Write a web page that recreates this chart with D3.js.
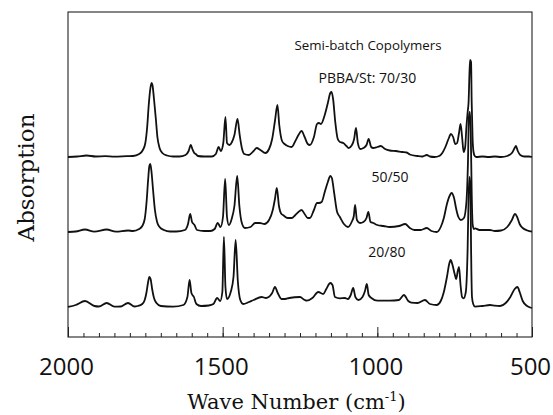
<!DOCTYPE html>
<html>
<head>
<meta charset="utf-8">
<script src="https://cdn.jsdelivr.net/npm/d3@7"></script>
<style>
	body { margin: 0; background: #fff; }
	.spec { fill: none; stroke: #111; stroke-width: 1.8; stroke-linejoin: round; }
	.frame { fill: none; stroke: #222; stroke-width: 1.1; }
	.tick line { stroke: #222; }
	.tick text { font-family: 'Open Sans', sans-serif; font-size: 24px; fill: #111; }
	.axis_title { font-family: 'DejaVu Serif', serif; fill: #111; }
	.note { font-family: 'Open Sans', sans-serif; fill: #111; text-anchor: middle; }
</style>
</head>
<body>
<div id="chart"></div>
<script>
// series names / stacking offsets (absorbance units)
var seriesNames = ['PBBA/St: 70/30', '50/50', '20/80'];
var seriesOffsets = [1.80, 1.05, 0.30];
var title = 'Semi-batch Copolymers';
// where the notes sit: [wave number, absorbance]
var notePos = [[1032, 2.54], [959, 1.55], [969, 0.80]];
var titlePos = [1030, 2.87];

var xMajorTicks = [2000, 1500, 1000, 500];
var xMinorTicks = d3.range(2000, 499, -50);

// [wave number (cm-1), absorbance above baseline]
var spec7030 = [[2000,0],[1970,.005],[1940,.015],[1910,.005],[1880,.008],[1850,.003],[1810,.008],[1790,.01],[1770,.03],[1758,.07],[1750,.14],[1744,.30],[1739,.52],[1734,.68],[1730,.74],[1727,.72],[1722,.58],[1716,.38],[1711,.20],[1704,.09],[1695,.04],[1680,.015],[1660,.005],[1640,.005],[1620,.02],[1610,.06],[1603,.12],[1598,.08],[1592,.04],[1587,.03],[1580,.01],[1560,.005],[1535,.005],[1522,.03],[1513,.10],[1506,.06],[1498,.14],[1491,.40],[1486,.14],[1478,.12],[1470,.15],[1462,.22],[1452,.38],[1445,.22],[1438,.09],[1430,.03],[1415,.02],[1400,.06],[1390,.09],[1378,.07],[1362,.04],[1350,.08],[1340,.18],[1331,.36],[1323,.52],[1317,.32],[1308,.16],[1300,.13],[1290,.11],[1277,.10],[1265,.16],[1255,.22],[1245,.26],[1235,.20],[1225,.13],[1218,.12],[1205,.20],[1195,.33],[1189,.34],[1182,.33],[1170,.42],[1160,.54],[1152,.64],[1148,.65],[1143,.58],[1136,.35],[1128,.18],[1121,.15],[1110,.14],[1100,.11],[1093,.09],[1082,.12],[1075,.18],[1069,.29],[1063,.14],[1055,.08],[1045,.09],[1035,.12],[1028,.18],[1020,.10],[1013,.09],[1000,.10],[989,.11],[975,.08],[960,.065],[940,.06],[920,.05],[905,.045],[895,.025],[870,.01],[855,.005],[840,.02],[830,.005],[815,0],[800,.01],[790,.04],[780,.10],[770,.18],[762,.23],[755,.20],[748,.13],[742,.14],[736,.24],[731,.33],[726,.20],[721,.05],[716,.10],[712,.30],[708,.45],[705,.55],[702,.85],[700,.97],[697,.95],[695,.55],[692,.18],[689,.05],[685,.01],[680,0],[660,.005],[640,0],[620,.005],[600,0],[580,.01],[565,.04],[556,.09],[552,.11],[546,.06],[538,.02],[525,.005],[510,.005],[500,0]];

var spec5050 = [[2000,0],[1975,.005],[1945,.025],[1915,.003],[1875,.025],[1845,.003],[1806,.015],[1790,.01],[1770,.03],[1760,.06],[1752,.13],[1746,.30],[1741,.52],[1737,.66],[1734,.68],[1730,.60],[1725,.42],[1719,.22],[1712,.10],[1704,.05],[1690,.02],[1670,.005],[1650,.005],[1622,.02],[1612,.08],[1605,.18],[1599,.10],[1591,.07],[1583,.02],[1560,.01],[1540,.01],[1526,.03],[1516,.09],[1507,.05],[1499,.15],[1492,.53],[1486,.15],[1480,.07],[1470,.14],[1462,.26],[1453,.56],[1446,.26],[1438,.09],[1428,.04],[1410,.05],[1395,.09],[1380,.09],[1365,.08],[1350,.12],[1338,.22],[1331,.33],[1325,.44],[1318,.26],[1310,.18],[1305,.17],[1290,.14],[1277,.14],[1265,.17],[1255,.20],[1245,.22],[1235,.18],[1225,.14],[1218,.14],[1205,.22],[1195,.29],[1189,.29],[1180,.30],[1170,.40],[1160,.50],[1152,.56],[1147,.54],[1140,.40],[1130,.20],[1121,.15],[1108,.08],[1095,.05],[1083,.10],[1076,.16],[1072,.27],[1066,.12],[1056,.09],[1045,.10],[1035,.14],[1029,.20],[1022,.10],[1013,.09],[1000,.07],[980,.06],[960,.05],[930,.06],[910,.08],[895,.04],[880,.02],[860,.02],[840,.04],[825,.01],[808,0],[795,.05],[785,.14],[775,.28],[765,.37],[760,.39],[752,.34],[745,.23],[738,.15],[730,.12],[720,.14],[712,.30],[707,.70],[704,1.15],[701,1.20],[698,1.00],[695,.40],[692,.08],[688,.03],[684,.037],[670,.02],[650,.02],[636,.02],[620,.01],[600,.015],[580,.05],[565,.12],[555,.18],[548,.15],[540,.08],[530,.04],[515,.015],[500,.003]];

var spec2080 = [[2000,0],[1975,.02],[1945,.06],[1915,.01],[1900,.005],[1875,.04],[1850,.003],[1830,.005],[1806,.04],[1785,.005],[1775,.01],[1760,.03],[1752,.07],[1746,.15],[1741,.25],[1737,.30],[1733,.28],[1728,.18],[1722,.09],[1714,.04],[1700,.01],[1660,.003],[1627,.02],[1614,.10],[1607,.27],[1601,.14],[1593,.10],[1585,.03],[1570,.01],[1545,.015],[1530,.03],[1518,.09],[1508,.06],[1501,.15],[1496,.70],[1491,.20],[1486,.08],[1474,.15],[1465,.30],[1458,.67],[1451,.26],[1443,.07],[1434,.03],[1415,.05],[1400,.07],[1374,.10],[1360,.09],[1340,.14],[1331,.20],[1322,.14],[1310,.08],[1298,.08],[1285,.09],[1250,.10],[1235,.07],[1228,.063],[1210,.09],[1191,.15],[1175,.13],[1165,.18],[1152,.24],[1145,.22],[1137,.10],[1121,.087],[1105,.09],[1095,.08],[1086,.12],[1078,.19],[1071,.10],[1061,.07],[1048,.10],[1040,.16],[1034,.23],[1028,.12],[1018,.087],[1000,.063],[960,.063],[930,.07],[914,.12],[900,.06],[890,.043],[870,.04],[846,.07],[830,.03],[808,.02],[795,.06],[785,.15],[775,.30],[767,.44],[763,.47],[757,.42],[750,.33],[745,.28],[740,.36],[736,.40],[731,.22],[726,.10],[721,.087],[714,.15],[708,.60],[705,1.10],[702,1.30],[699,1.20],[697,.60],[694,.10],[690,.03],[684,.003],[660,.01],[636,.02],[620,.013],[603,.01],[585,.04],[570,.10],[556,.18],[547,.20],[540,.15],[530,.06],[520,.02],[510,0],[500,-.01]];

var spectra = [spec7030, spec5050, spec2080];

var cfg = {
	w: 553,
	h: 415,
	mTop: 12,
	mRight: 21,
	mBottom: 78,
	mLeft: 68
};
var width = cfg.w - (cfg.mLeft + cfg.mRight),
	height = cfg.h - (cfg.mTop + cfg.mBottom);

var x = d3.scaleLinear().domain([2000, 500]).range([0, width]);
var y = d3.scaleLinear().domain([0, 3.25]).range([height, 0]);

var svg = d3.select('#chart').append('svg')
	.attr('width', cfg.w)
	.attr('height', cfg.h)
	.append('g')
	.attr('transform', 'translate(' + cfg.mLeft + ',' + cfg.mTop + ')');

// minor ticks, pointing inward
svg.append('g')
	.attr('transform', 'translate(0,' + height + ')')
	.call(d3.axisBottom(x).tickValues(xMinorTicks).tickSize(-4).tickFormat(''))
	.call(function(g) { g.select('.domain').remove(); });

// major ticks + labels
svg.append('g')
	.attr('transform', 'translate(0,' + height + ')')
	.call(d3.axisBottom(x).tickValues(xMajorTicks).tickSize(-10).tickFormat(d3.format('d')))
	.call(function(g) {
		g.select('.domain').remove();
		g.selectAll('.tick text').attr('y', 38).attr('dy', 0).attr('dx', -2);
	});

svg.append('rect')
	.classed('frame', true)
	.attr('x', 0)
	.attr('y', 0)
	.attr('width', width)
	.attr('height', height);

// spectra
spectra.forEach(function(s, i) {
	var off = seriesOffsets[i];
	svg.append('path')
		.datum(s)
		.classed('spec', true)
		.attr('d', d3.line()
			.curve(d3.curveMonotoneX)
			.x(function(d) { return x(d[0]); })
			.y(function(d) { return y(d[1] + off); }));
});

// notes
svg.append('text')
	.classed('note', true)
	.style('font-size', '13.3px')
	.attr('x', x(titlePos[0]))
	.attr('y', y(titlePos[1]))
	.text(title);

svg.selectAll('.series_lbl')
	.data(seriesNames)
	.enter()
	.append('text')
	.classed('note', true)
	.style('font-size', '14px')
	.attr('x', function(d, i) { return x(notePos[i][0]); })
	.attr('y', function(d, i) { return y(notePos[i][1]); })
	.text(function(d) { return d; });

// axis titles
var xt = svg.append('text')
	.classed('axis_title', true)
	.style('font-size', '21px')
	.attr('text-anchor', 'middle')
	.attr('x', 296.5 - cfg.mLeft)
	.attr('y', height + 72);
xt.append('tspan').text('Wave Number (cm');
xt.append('tspan').attr('dy', -8).style('font-size', '13px').text('-1');
xt.append('tspan').attr('dy', 8).text(')');

svg.append('text')
	.classed('axis_title', true)
	.style('font-size', '23px')
	.attr('text-anchor', 'middle')
	.attr('transform', 'translate(' + (33.5 - cfg.mLeft) + ',' + (177.5 - cfg.mTop) + ') rotate(-90)')
	.text('Absorption');
</script>
</body>
</html>
